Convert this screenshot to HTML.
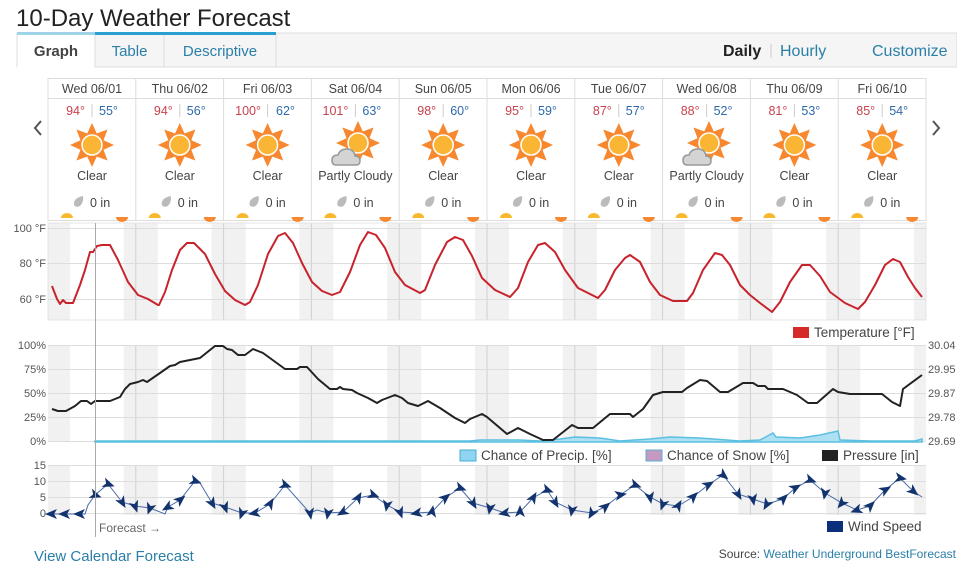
<!DOCTYPE html>
<html><head><meta charset="utf-8"><style>
body{margin:0;width:957px;height:564px;overflow:hidden;background:#fff;font-family:"Liberation Sans","DejaVu Sans",sans-serif;}
svg text{font-family:"Liberation Sans","DejaVu Sans",sans-serif;}
</style></head><body>
<svg width="957" height="564" xmlns="http://www.w3.org/2000/svg">
<defs>
<g id="sun">
 <g fill="#f7882f">
  <path d="M0,-22 L5,-11 L-5,-11Z"/><path d="M0,-22 L5,-11 L-5,-11Z" transform="rotate(45)"/>
  <path d="M0,-22 L5,-11 L-5,-11Z" transform="rotate(90)"/><path d="M0,-22 L5,-11 L-5,-11Z" transform="rotate(135)"/>
  <path d="M0,-22 L5,-11 L-5,-11Z" transform="rotate(180)"/><path d="M0,-22 L5,-11 L-5,-11Z" transform="rotate(225)"/>
  <path d="M0,-22 L5,-11 L-5,-11Z" transform="rotate(270)"/><path d="M0,-22 L5,-11 L-5,-11Z" transform="rotate(315)"/>
 </g>
 <circle r="12" fill="#f7882f"/>
 <circle r="10" fill="#fbb535" stroke="#fff" stroke-width="1.5"/>
</g>
<g id="cloud">
 <path d="M-12,6 Q-16,6 -16,1 Q-16,-4 -10,-4 Q-8,-10 -1,-10 Q6,-10 7,-3 Q12,-3 12,2 Q12,6 8,6Z" fill="#d4d4d4" stroke="#999" stroke-width="1.5"/>
</g>
<g id="drop"><path d="M4,-6 Q-6,-4 -5,3 Q-3,6 1,4 Q5,0 4,-6Z" fill="#bbb"/></g>
<g id="bot">
 <path d="M-6,0 A6,5 0 0 1 6,0Z" fill="#f9b92e"/>
 <path d="M49,-1 A6,5 0 0 0 61,-1Z" fill="#f7882f"/>
</g>
<clipPath id="c1"><rect x="48" y="223" width="878" height="97"/></clipPath>
<clipPath id="c2"><rect x="48" y="345" width="878" height="97"/></clipPath>
<clipPath id="c3"><rect x="48" y="465" width="878" height="50"/></clipPath>
<g id="bands" fill="#f1f1f1">
 <rect x="36" y="0" width="34" height="100"/><rect x="123.8" y="0" width="34" height="100"/>
 <rect x="211.6" y="0" width="34" height="100"/><rect x="299.4" y="0" width="34" height="100"/>
 <rect x="387.2" y="0" width="34" height="100"/><rect x="475" y="0" width="34" height="100"/>
 <rect x="562.8" y="0" width="34" height="100"/><rect x="650.6" y="0" width="34" height="100"/>
 <rect x="738.4" y="0" width="34" height="100"/><rect x="826.2" y="0" width="34" height="100"/>
 <rect x="914" y="0" width="34" height="100"/>
</g>
<g id="vl" stroke="#d0d0d0" stroke-width="1">
 <path d="M135.8,0V100M223.6,0V100M311.4,0V100M399.2,0V100M487,0V100M574.8,0V100M662.6,0V100M750.4,0V100M838.2,0V100"/>
</g>
</defs>

<!-- title -->
<text x="16" y="26" font-size="24" fill="#222">10-Day Weather Forecast</text>
<!-- tab bar -->
<rect x="17" y="33" width="940" height="34" fill="#f5f5f5" stroke="#ddd"/>
<rect x="17" y="33" width="78" height="35" fill="#fff"/>
<line x1="17" y1="67" x2="17" y2="33" stroke="#ddd"/>
<line x1="95" y1="34" x2="95" y2="67" stroke="#ddd"/>
<line x1="164" y1="34" x2="164" y2="67" stroke="#ddd"/>
<line x1="276" y1="34" x2="276" y2="67" stroke="#ddd"/>
<rect x="17" y="32" width="78" height="3" fill="#9fd3e8"/>
<rect x="95" y="32" width="181" height="3" fill="#2a9fd0"/>
<text x="56" y="56" font-size="15" font-weight="bold" fill="#444" text-anchor="middle">Graph</text>
<text x="129.5" y="56" font-size="15" fill="#2a7fa8" text-anchor="middle">Table</text>
<text x="220" y="56" font-size="15" fill="#2a7fa8" text-anchor="middle">Descriptive</text>
<text x="723" y="56" font-size="16" font-weight="bold" fill="#222">Daily</text>
<line x1="771" y1="44" x2="771" y2="58" stroke="#ccc"/>
<text x="780" y="56" font-size="16" fill="#2a7fa8">Hourly</text>
<text x="872" y="56" font-size="16" fill="#2a7fa8">Customize</text>

<!-- arrows -->
<path d="M41,121 L35,128 L41,135" fill="none" stroke="#555" stroke-width="2"/>
<path d="M933,121 L939,128 L933,135" fill="none" stroke="#555" stroke-width="2"/>

<!-- day grid -->
<rect x="48" y="78.5" width="878" height="142" fill="none" stroke="#ddd"/>
<line x1="48" y1="98.5" x2="926" y2="98.5" stroke="#ddd"/>
<g stroke="#ddd"><path d="M135.8,78V220M223.6,78V220M311.4,78V220M399.2,78V220M487,78V220M574.8,78V220M662.6,78V220M750.4,78V220M838.2,78V220"/></g>

<g font-size="12.5" fill="#444" text-anchor="middle">
<text x="92" y="93">Wed 06/01</text><text x="179.8" y="93">Thu 06/02</text><text x="267.6" y="93">Fri 06/03</text>
<text x="355.4" y="93">Sat 06/04</text><text x="443.2" y="93">Sun 06/05</text><text x="531" y="93">Mon 06/06</text>
<text x="618.8" y="93">Tue 06/07</text><text x="706.6" y="93">Wed 06/08</text><text x="794.4" y="93">Thu 06/09</text>
<text x="882.2" y="93">Fri 06/10</text>
</g>
<g font-size="12.5" text-anchor="end" fill="#c8414f">
<text x="85" y="115">94°</text><text x="172.8" y="115">94°</text><text x="261" y="115">100°</text><text x="348.4" y="115">101°</text>
<text x="436.2" y="115">98°</text><text x="524" y="115">95°</text><text x="611.8" y="115">87°</text><text x="699.6" y="115">88°</text>
<text x="787.4" y="115">81°</text><text x="875.2" y="115">85°</text>
</g>
<g font-size="12.5" fill="#2e69ab">
<text x="99" y="115">55°</text><text x="186.8" y="115">56°</text><text x="276" y="115">62°</text><text x="362.4" y="115">63°</text>
<text x="450.2" y="115">60°</text><text x="538" y="115">59°</text><text x="625.8" y="115">57°</text><text x="713.6" y="115">52°</text>
<text x="801.4" y="115">53°</text><text x="889.2" y="115">54°</text>
</g>
<g stroke="#ccc"><path d="M92,104V117M179.8,104V117M267.6,104V117M355.4,104V117M443.2,104V117M531,104V117M618.8,104V117M706.6,104V117M794.4,104V117M882.2,104V117"/></g>

<use href="#sun" x="92" y="145"/><use href="#sun" x="179.8" y="145"/><use href="#sun" x="267.6" y="145"/>
<use href="#sun" x="358" y="143"/><use href="#cloud" x="348" y="159"/>
<use href="#sun" x="443.2" y="145"/><use href="#sun" x="531" y="145"/><use href="#sun" x="618.8" y="145"/>
<use href="#sun" x="709" y="143"/><use href="#cloud" x="699" y="159"/>
<use href="#sun" x="794.4" y="145"/><use href="#sun" x="882.2" y="145"/>

<g font-size="12.5" fill="#444" text-anchor="middle">
<text x="92" y="180">Clear</text><text x="179.8" y="180">Clear</text><text x="267.6" y="180">Clear</text>
<text x="355.4" y="180">Partly Cloudy</text><text x="443.2" y="180">Clear</text><text x="531" y="180">Clear</text>
<text x="618.8" y="180">Clear</text><text x="706.6" y="180">Partly Cloudy</text><text x="794.4" y="180">Clear</text>
<text x="882.2" y="180">Clear</text>
</g>
<g font-size="12.5" fill="#444">
<text x="90" y="207">0 in</text><text x="177.8" y="207">0 in</text><text x="265.6" y="207">0 in</text><text x="353.4" y="207">0 in</text>
<text x="441.2" y="207">0 in</text><text x="529" y="207">0 in</text><text x="616.8" y="207">0 in</text><text x="704.6" y="207">0 in</text>
<text x="792.4" y="207">0 in</text><text x="880.2" y="207">0 in</text>
</g>
<use href="#drop" x="79" y="202"/><use href="#drop" x="166.8" y="202"/><use href="#drop" x="254.6" y="202"/><use href="#drop" x="342.4" y="202"/>
<use href="#drop" x="430.2" y="202"/><use href="#drop" x="518" y="202"/><use href="#drop" x="605.8" y="202"/><use href="#drop" x="693.6" y="202"/>
<use href="#drop" x="781.4" y="202"/><use href="#drop" x="869.2" y="202"/>
<use href="#bot" x="67" y="218"/><use href="#bot" x="154.8" y="218"/><use href="#bot" x="242.6" y="218"/><use href="#bot" x="330.4" y="218"/>
<use href="#bot" x="418.2" y="218"/><use href="#bot" x="506" y="218"/><use href="#bot" x="593.8" y="218"/><use href="#bot" x="681.6" y="218"/>
<use href="#bot" x="769.4" y="218"/><use href="#bot" x="857.2" y="218"/>

<!-- TEMP CHART -->
<g clip-path="url(#c1)">
 <use href="#bands" y="223"/><use href="#vl" y="223"/>
</g>
<g transform="translate(0,223)"><g clip-path="url(#c1)" transform="translate(0,-223)"></g></g>
<rect x="48" y="223" width="878" height="97" fill="none" stroke="#e4e4e4"/>
<g stroke="#ddd"><path d="M48,228.5H926M48,263.5H926M48,299.5H926"/></g>
<g font-size="11" fill="#555" text-anchor="end">
<text x="46" y="232">100 °F</text><text x="46" y="267">80 °F</text><text x="46" y="303">60 °F</text>
</g>
<polyline fill="none" stroke="#c8232d" stroke-width="2" stroke-linejoin="round" points="52,286 57,299 60,304 63,300 66,303 73,303 80,285 85,270 90,252 93,252 97,246 102,245 110,245 118,260 128,282 138,295 148,299 158,305 159,305 165,292 172,270 180,250 187,243 194,243 205,254 215,274 225,291 235,300 245,305 250,302 258,285 268,254 278,236 285,233 293,243 302,263 312,282 322,291 332,295 340,292 350,272 360,245 368,232 376,235 385,248 395,272 405,285 420,293 425,290 435,265 447,242 455,237 463,240 472,256 482,278 495,290 510,297 518,288 528,262 538,245 545,243 555,252 565,270 578,288 598,298 605,290 615,270 625,258 630,255 640,262 650,282 660,295 673,301 687,301 693,293 703,270 715,253 722,255 730,265 740,285 750,295 760,303 772,312 780,302 790,282 802,265 810,265 820,276 830,292 845,303 858,309 865,302 875,285 885,265 893,259 900,262 908,277 915,288 922,297"/>
<rect x="793" y="327" width="16" height="11" fill="#d62a2a"/>
<text x="814" y="337" font-size="13.5" fill="#444">Temperature [°F]</text>

<!-- PRESSURE CHART -->
<g clip-path="url(#c2)">
 <use href="#bands" y="345"/><use href="#vl" y="345"/>
</g>
<g stroke="#ddd"><path d="M48,345.5H926M48,369.5H926M48,393.5H926M48,417.5H926M48,441.5H926"/></g>
<g font-size="11" fill="#555" text-anchor="end">
<text x="46" y="349">100%</text><text x="46" y="373">75%</text><text x="46" y="397">50%</text><text x="46" y="421">25%</text><text x="46" y="445">0%</text>
</g>
<g font-size="11" fill="#555">
<text x="928" y="349">30.04</text><text x="928" y="373">29.95</text><text x="928" y="397">29.87</text><text x="928" y="421">29.78</text><text x="928" y="445">29.69</text>
</g>
<path d="M95,441 L470,441 L480,440 L520,440 L540,441 L560,439 L575,437 L600,438 L620,441 L650,439 L670,437 L700,438 L740,441 L760,440 L773,433 L776,437 L800,438 L820,435 L838,431 L840,440 L870,441 L915,441 L922,439 L922,442 L95,442Z" fill="#aee0f3" stroke="#5bbfe0" stroke-width="1.5"/>
<polyline fill="none" stroke="#222" stroke-width="2" stroke-linejoin="round" points="52,409 58,411 66,411 75,406 81,401 87,401 91,404 95,401 110,401 115,399 120,397 125,389 130,384 138,382 143,380 147,382 160,373 170,366 175,365 180,362 200,358 210,350 215,346 223,346 227,349 232,350 238,355 245,355 253,349 258,351 263,353 285,369 297,369 300,367 307,367 318,379 330,389 337,389 340,387 343,389 352,390 357,393 368,398 377,403 382,400 395,395 402,398 408,403 418,406 428,401 440,408 455,418 465,423 470,419 482,414 487,417 507,434 518,428 530,434 543,440 553,440 572,425 578,428 593,428 610,414 630,414 633,417 643,409 653,395 663,392 682,392 687,388 700,380 707,381 720,392 728,392 743,383 753,383 758,386 765,386 768,389 783,389 797,395 808,403 817,403 833,389 838,392 850,394 882,394 892,402 900,406 903,389 922,375"/>
<rect x="460" y="450" width="16" height="11" fill="#8fd4f0" stroke="#4aaed6"/>
<text x="481" y="460" font-size="13.5" fill="#444">Chance of Precip. [%]</text>
<rect x="646" y="450" width="16" height="11" fill="#c49ac0" stroke="#5aaed6"/>
<text x="667" y="460" font-size="13.5" fill="#444">Chance of Snow [%]</text>
<rect x="822" y="450" width="16" height="11" fill="#222"/>
<text x="843" y="460" font-size="13.5" fill="#444">Pressure [in]</text>

<!-- WIND CHART -->
<g clip-path="url(#c3)">
 <use href="#bands" y="465"/><use href="#vl" y="465"/>
</g>
<g stroke="#ddd"><path d="M48,465.5H926M48,481.5H926M48,497.5H926M48,513.5H926"/></g>
<g font-size="11" fill="#555" text-anchor="end">
<text x="46" y="469">15</text><text x="46" y="485">10</text><text x="46" y="501">5</text><text x="46" y="517">0</text>
</g>
<polyline id="wl" fill="none" stroke="#4a6aa8" stroke-width="1" points="52,514 65,514 80,514 85,514 88,505 95,495 108,484 122,502 135,506 150,508 165,514 168,507 180,500 195,481 200,483 212,503 225,507 242,513 255,513 270,504 285,485 310,513 317,510 328,513 343,512 358,498 373,495 387,505 400,512 417,513 432,512 445,498 460,488 473,503 490,508 505,513 520,512 533,498 547,490 555,502 572,510 592,513 605,507 620,495 635,485 650,497 663,504 678,506 693,497 708,485 723,475 738,494 753,499 767,504 783,499 795,488 810,480 825,493 842,503 857,510 870,506 885,490 900,478 913,491 922,497"/>
<g id="arrows" fill="#12336e"></g>
<rect x="827" y="521" width="16" height="11" fill="#0b2f7a"/>
<text x="848" y="531" font-size="13.5" fill="#444">Wind Speed</text>

<!-- forecast line -->
<line x1="95.5" y1="223" x2="95.5" y2="537" stroke="#aaa" stroke-width="1"/>
<text x="99" y="532" font-size="12" fill="#666">Forecast →</text>

<text x="34" y="561" font-size="15" fill="#2a7fa8">View Calendar Forecast</text>
<text x="956" y="558" font-size="12" fill="#444" text-anchor="end">Source: <tspan fill="#2a7fa8">Weather Underground BestForecast</tspan></text>
</svg>
<script>
var pts="52,514 65,514 80,514 95,495 108,484 122,502 135,506 150,508 168,507 180,500 195,481 212,503 225,507 242,513 255,513 270,504 285,485 310,513 328,513 343,512 358,498 373,495 387,505 400,512 417,513 432,512 445,498 460,488 473,503 490,508 505,513 520,512 533,498 547,490 555,502 572,510 592,513 605,507 620,495 635,485 650,497 663,504 678,506 693,497 708,485 723,475 738,494 753,499 767,504 783,499 795,488 810,480 825,493 842,503 857,510 870,506 885,490 900,478 913,491".split(" ");
var g=document.getElementById("arrows"),s="",dirs=[180,180,180,20,20,60,70,110,150,-40,20,60,70,110,170,-60,20,80,100,150,-60,20,100,70,170,-80,-40,20,60,100,170,-90,-60,20,60,100,120,-40,-10,20,80,110,-60,-45,-30,40,60,80,120,-45,-30,20,100,130,160,-45,-30,10,40];
for(var i=0;i<pts.length;i++){var p=pts[i].split(",");var a=dirs[i%dirs.length];
s+='<path d="M7,0 L-5,-5 L-2,0 L-5,5Z" transform="translate('+p[0]+','+p[1]+') rotate('+a+')"/>';}
g.innerHTML=s;
</script>
</body></html>
